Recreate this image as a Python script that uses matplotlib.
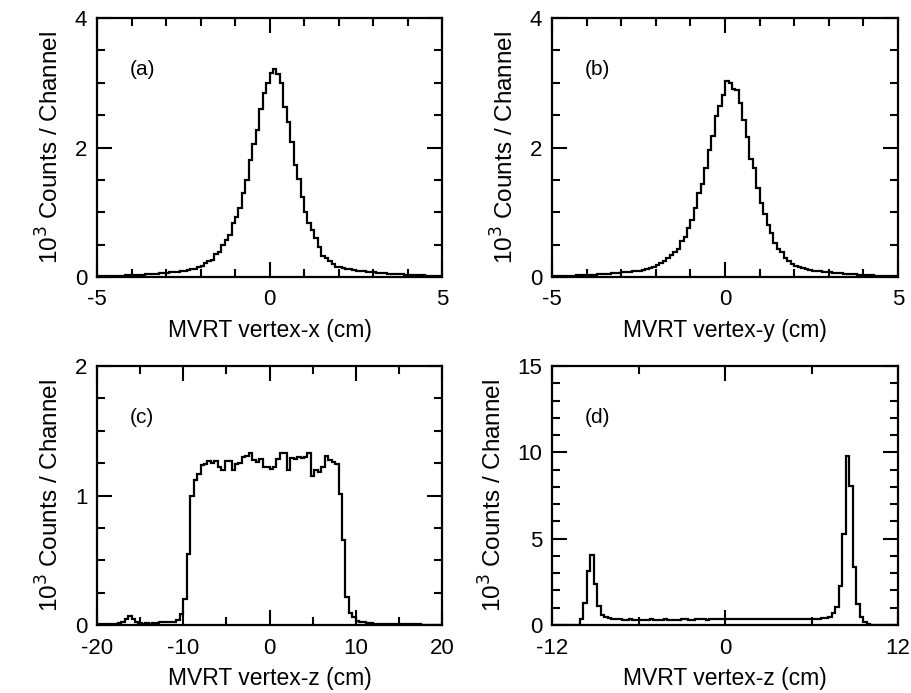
import numpy as np
import matplotlib
matplotlib.use("Agg")
import matplotlib.pyplot as plt
from matplotlib.ticker import MultipleLocator

plt.rcParams["font.family"] = ["Liberation Sans", "DejaVu Sans"]

# (a) vertex-x, 100 bins of 0.1 cm from -5 to 5, in 10^3 counts
vx_counts = [
    0.01, 0.01, 0.01, 0.015, 0.015, 0.02, 0.02, 0.02, 0.025, 0.025,
    0.03, 0.03, 0.035, 0.035, 0.04, 0.045, 0.045, 0.05, 0.055, 0.06,
    0.065, 0.07, 0.075, 0.08, 0.09, 0.10, 0.11, 0.12, 0.13, 0.15,
    0.17, 0.21, 0.24, 0.27, 0.36, 0.39, 0.49, 0.57, 0.65, 0.83,
    0.93, 1.07, 1.29, 1.50, 1.81, 2.06, 2.27, 2.59, 2.84, 3.00,
    3.15, 3.21, 3.13, 2.99, 2.63, 2.40, 2.09, 1.73, 1.52, 1.24,
    1.01, 0.83, 0.73, 0.60, 0.47, 0.32, 0.29, 0.25, 0.20, 0.16,
    0.15, 0.14, 0.13, 0.12, 0.11, 0.10, 0.095, 0.09, 0.08, 0.075,
    0.07, 0.065, 0.06, 0.055, 0.05, 0.05, 0.045, 0.04, 0.04, 0.035,
    0.035, 0.03, 0.03, 0.025, 0.025, 0.02, 0.02, 0.02, 0.015, 0.015,
]

# (b) vertex-y, 100 bins of 0.1 cm from -5 to 5
vy_counts = [
    0.01, 0.01, 0.015, 0.015, 0.02, 0.02, 0.02, 0.025, 0.025, 0.03,
    0.03, 0.035, 0.035, 0.04, 0.045, 0.05, 0.05, 0.055, 0.06, 0.065,
    0.07, 0.075, 0.08, 0.085, 0.09, 0.10, 0.11, 0.12, 0.14, 0.16,
    0.19, 0.21, 0.24, 0.30, 0.34, 0.39, 0.44, 0.56, 0.61, 0.75,
    0.88, 1.06, 1.29, 1.44, 1.69, 1.96, 2.18, 2.49, 2.64, 2.81,
    3.02, 2.99, 2.90, 2.89, 2.69, 2.43, 2.16, 1.83, 1.68, 1.37,
    1.15, 0.97, 0.80, 0.68, 0.53, 0.43, 0.38, 0.29, 0.25, 0.20,
    0.17, 0.15, 0.14, 0.12, 0.11, 0.10, 0.095, 0.09, 0.08, 0.075,
    0.07, 0.065, 0.06, 0.055, 0.05, 0.045, 0.04, 0.04, 0.035, 0.03,
    0.03, 0.025, 0.025, 0.02, 0.02, 0.015, 0.015, 0.01, 0.01, 0.01,
]

# (c) vertex-z, 100 bins of 0.4 cm from -20 to 20
vz_counts = [
    0.005, 0.005, 0.005, 0.01, 0.01, 0.01, 0.015, 0.025, 0.045, 0.07,
    0.05, 0.025, 0.015, 0.01, 0.015, 0.01, 0.015, 0.015, 0.02, 0.02,
    0.025, 0.025, 0.025, 0.04, 0.085, 0.20, 0.55, 1.00, 1.12, 1.17,
    1.236, 1.243, 1.269, 1.25, 1.265, 1.22, 1.20, 1.27, 1.27, 1.20,
    1.243, 1.253, 1.30, 1.305, 1.326, 1.274, 1.261, 1.279, 1.22, 1.217,
    1.202, 1.22, 1.279, 1.326, 1.326, 1.197, 1.287, 1.279, 1.30, 1.287,
    1.295, 1.326, 1.15, 1.20, 1.18, 1.22, 1.305, 1.274, 1.26, 1.243,
    1.01, 0.66, 0.22, 0.09, 0.06, 0.03, 0.025, 0.02, 0.015, 0.015,
    0.01, 0.01, 0.01, 0.005, 0.005, 0.005, 0.005, 0.005, 0.005, 0.005,
    0.005, 0.005, 0.005, 0.005, 0.0, 0.0, 0.0, 0.0, 0.0, 0.0,
]

# (d) vertex-z, 100 bins of 0.24 cm from -12 to 12
vz2_counts = [
    0.0, 0.0, 0.0, 0.0, 0.0, 0.0, 0.0, 0.0,
    0.33, 1.26, 3.15, 4.05, 2.35, 1.10, 0.58, 0.45, 0.40, 0.35,
    0.33, 0.32, 0.31, 0.31, 0.32, 0.30, 0.31, 0.31, 0.30, 0.31,
    0.32, 0.31, 0.30, 0.31, 0.32, 0.31, 0.31, 0.30, 0.31, 0.32,
    0.32, 0.31, 0.31, 0.32, 0.33, 0.32, 0.31, 0.32, 0.33, 0.34,
    0.33, 0.34, 0.33, 0.32, 0.33, 0.34, 0.33, 0.32, 0.33, 0.34,
    0.35, 0.34, 0.33, 0.34, 0.35, 0.34, 0.35, 0.36, 0.35, 0.34,
    0.35, 0.36, 0.37, 0.36, 0.35, 0.36, 0.37, 0.36, 0.37, 0.38,
    0.40, 0.47, 0.71, 1.06, 2.26, 5.27, 9.79, 8.05, 3.38, 1.22,
    0.48, 0.19, 0.06,
    0.0, 0.0, 0.0, 0.0, 0.0, 0.0, 0.0, 0.0,
]

panels = [
    # label, counts, x range, y max, x major, x minor, y major, y minor, xlabel, xticks
    ("(a)", vx_counts, (-5, 5), 4, 5, 1, 2, 0.5, "MVRT vertex-x (cm)", [-5, 0, 5]),
    ("(b)", vy_counts, (-5, 5), 4, 5, 1, 2, 0.5, "MVRT vertex-y (cm)", [-5, 0, 5]),
    ("(c)", vz_counts, (-20, 20), 2, 10, 5, 1, 0.25, "MVRT vertex-z (cm)", [-20, -10, 0, 10, 20]),
    ("(d)", vz2_counts, (-12, 12), 15, 12, 6, 5, 1, "MVRT vertex-z (cm)", [-12, 0, 12]),
]

positions = [
    [0.1064, 0.6003, 0.3783, 0.3737],
    [0.6053, 0.6003, 0.3794, 0.3737],
    [0.1064, 0.0981, 0.3783, 0.3737],
    [0.6053, 0.0981, 0.3794, 0.3737],
]

fig = plt.figure(figsize=(9.12, 6.93), dpi=100)

for (label, counts, xr, ymax, xmaj, xmin, ymaj, ymin, xlabel, xticks), pos in zip(panels, positions):
    ax = fig.add_axes(pos)
    edges = np.linspace(xr[0], xr[1], len(counts) + 1)
    ax.stairs(counts, edges, color="black", linewidth=1.6)
    ax.set_xlim(*xr)
    ax.set_ylim(0, ymax)
    ax.xaxis.set_major_locator(MultipleLocator(xmaj))
    ax.xaxis.set_minor_locator(MultipleLocator(xmin))
    ax.yaxis.set_major_locator(MultipleLocator(ymaj))
    ax.yaxis.set_minor_locator(MultipleLocator(ymin))
    ax.set_xticks(xticks, [str(t) for t in xticks])
    ax.tick_params(which="both", direction="in", top=True, right=True, width=1.5, labelsize=16)
    ax.tick_params(which="major", length=11)
    ax.tick_params(which="minor", length=5.5)
    ax.tick_params(axis="x", which="major", pad=9)
    ax.tick_params(axis="y", which="major", pad=7)
    for s in ax.spines.values():
        s.set_linewidth(1.6)
    ax.set_xlabel(xlabel, fontsize=16.5, labelpad=6)
    ax.set_ylabel("10$^3$ Counts / Channel", fontsize=17.5, labelpad=8)
    ax.text(0.095, 0.80, label, transform=ax.transAxes, fontsize=15, va="center")

fig.savefig("out.png", dpi=100)
